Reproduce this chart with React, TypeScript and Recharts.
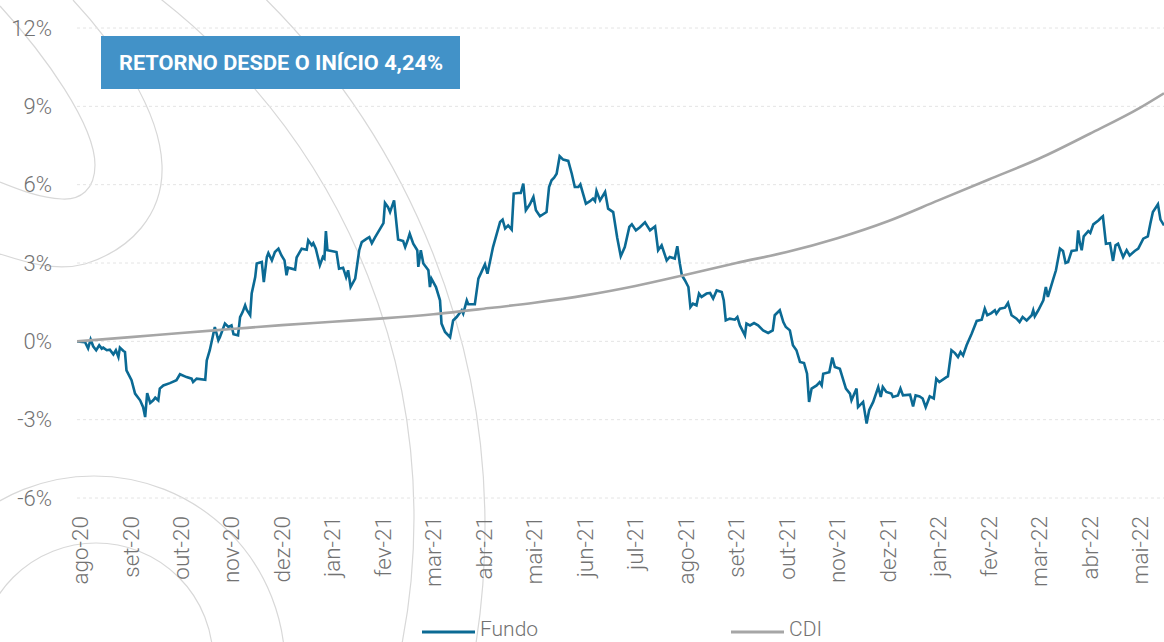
import React from 'react';
import { LineChart, Line, XAxis, YAxis, CartesianGrid } from 'recharts';

const MONTHS = ['ago-20','set-20','out-20','nov-20','dez-20','jan-21','fev-21','mar-21','abr-21','mai-21','jun-21','jul-21','ago-21','set-21','out-21','nov-21','dez-21','jan-22','fev-22','mar-22','abr-22','mai-22'];
const Y_TICKS = [-6, -3, 0, 3, 6, 9, 12];

// time in months since ago-20
const fundoT = [-0.06,0.10,0.16,0.21,0.26,0.32,0.38,0.43,0.46,0.53,0.59,0.66,0.71,0.76,0.79,0.86,0.89,0.92,1.02,1.09,1.19,1.25,1.29,1.33,1.39,1.45,1.49,1.55,1.58,1.65,1.78,1.91,1.98,2.11,2.21,2.24,2.31,2.48,2.51,2.57,2.67,2.74,2.77,2.87,2.94,3.00,3.04,3.13,3.17,3.22,3.27,3.30,3.37,3.40,3.47,3.50,3.60,3.64,3.70,3.73,3.80,3.86,3.93,3.99,4.05,4.09,4.12,4.26,4.29,4.39,4.49,4.52,4.59,4.62,4.67,4.75,4.81,4.84,4.87,4.90,4.98,5.08,5.13,5.21,5.27,5.31,5.36,5.45,5.53,5.58,5.68,5.73,5.78,5.84,6.01,6.04,6.10,6.14,6.22,6.30,6.40,6.44,6.50,6.53,6.60,6.68,6.70,6.75,6.80,6.90,6.93,6.96,7.05,7.13,7.16,7.23,7.33,7.39,7.46,7.56,7.59,7.66,7.69,7.82,7.89,7.95,8.02,8.07,8.18,8.32,8.37,8.42,8.48,8.55,8.59,8.68,8.73,8.78,8.83,8.91,8.98,9.03,9.11,9.24,9.29,9.34,9.39,9.44,9.50,9.57,9.67,9.74,9.80,9.87,9.91,10.02,10.10,10.16,10.20,10.23,10.30,10.40,10.46,10.56,10.64,10.71,10.79,10.88,10.93,11.01,11.09,11.19,11.29,11.39,11.45,11.52,11.62,11.68,11.78,11.83,11.88,11.92,11.98,12.05,12.09,12.14,12.21,12.26,12.31,12.41,12.48,12.54,12.61,12.71,12.75,12.79,12.87,12.97,13.02,13.07,13.17,13.20,13.27,13.35,13.43,13.53,13.63,13.72,13.76,13.86,13.93,13.98,14.06,14.12,14.19,14.26,14.34,14.40,14.44,14.49,14.59,14.65,14.69,14.72,14.84,14.90,14.95,15.05,15.17,15.25,15.28,15.38,15.41,15.51,15.58,15.63,15.71,15.81,15.86,15.90,15.97,16.07,16.10,16.20,16.25,16.30,16.44,16.50,16.55,16.63,16.69,16.75,16.83,16.91,16.96,17.02,17.16,17.19,17.26,17.33,17.39,17.44,17.49,17.56,17.66,17.76,17.86,17.92,17.97,18.05,18.12,18.15,18.22,18.32,18.38,18.45,18.55,18.61,18.67,18.75,18.85,18.88,18.91,18.98,19.08,19.13,19.17,19.27,19.33,19.41,19.47,19.52,19.57,19.64,19.74,19.77,19.80,19.84,19.88,19.97,20.01,20.07,20.17,20.23,20.26,20.32,20.40,20.46,20.51,20.56,20.63,20.66,20.73,20.79,20.89,20.96,21.06,21.15,21.20,21.25,21.35,21.40,21.47];
const fundoV = [0.00,-0.03,-0.27,0.07,-0.19,-0.34,-0.15,-0.28,-0.24,-0.34,-0.32,-0.50,-0.34,-0.60,-0.24,-0.37,-0.41,-1.11,-1.49,-2.00,-2.26,-2.52,-2.90,-1.98,-2.36,-2.26,-2.16,-2.26,-1.81,-1.69,-1.60,-1.49,-1.26,-1.37,-1.43,-1.56,-1.43,-1.47,-0.73,-0.34,0.55,0.04,0.16,0.68,0.55,0.61,0.27,0.23,0.93,1.12,1.38,1.21,1.00,1.83,2.46,2.98,3.04,2.27,3.23,3.38,3.10,3.42,3.55,3.29,3.10,2.53,2.82,2.75,3.21,3.55,3.51,3.87,3.68,3.76,3.55,2.91,3.23,3.17,4.22,3.49,3.46,3.42,2.78,2.82,2.46,2.72,2.08,2.40,3.49,3.80,3.93,3.99,3.76,3.97,4.53,5.30,5.14,4.95,5.40,3.90,3.84,3.61,3.93,4.12,3.74,3.49,2.85,3.49,2.98,2.72,2.08,2.40,2.08,1.57,0.68,0.36,0.16,0.80,0.93,1.19,1.06,1.57,1.42,1.42,2.40,2.65,2.95,2.59,3.61,4.57,4.66,4.32,4.44,4.28,5.66,5.68,5.68,6.04,5.02,5.25,5.53,5.02,4.79,4.95,5.91,6.17,6.27,6.42,7.09,6.96,6.91,6.42,5.91,5.91,6.01,5.27,5.37,5.47,5.37,5.76,5.40,5.72,5.08,4.95,3.97,3.26,3.61,4.38,4.48,4.25,4.37,4.56,4.25,4.40,3.49,3.68,3.10,3.23,3.17,3.64,2.98,2.53,2.34,2.08,1.31,1.44,1.38,1.83,1.70,1.83,1.85,1.64,1.95,1.89,1.57,0.80,0.87,0.83,0.93,0.61,0.23,0.68,0.61,0.70,0.61,0.42,0.32,0.42,1.00,1.19,0.74,0.55,0.42,-0.15,-0.34,-0.79,-0.83,-1.24,-2.32,-1.81,-1.69,-1.56,-1.69,-1.24,-1.18,-0.62,-0.98,-1.05,-1.81,-2.00,-2.26,-1.81,-2.52,-2.32,-3.15,-2.64,-2.32,-1.75,-2.13,-1.75,-1.94,-2.00,-2.13,-2.07,-1.81,-2.07,-2.04,-2.49,-2.07,-2.11,-2.19,-2.52,-2.11,-2.19,-1.43,-1.56,-1.37,-1.34,-0.34,-0.45,-0.60,-0.41,-0.54,-0.15,0.29,0.78,0.83,1.25,1.00,1.08,1.19,1.06,1.25,1.29,1.47,1.00,0.87,0.74,0.93,0.80,1.00,1.19,0.96,1.19,1.57,2.08,1.70,2.34,2.72,3.55,3.46,3.00,3.04,3.46,3.49,4.25,3.80,3.49,4.02,4.22,4.15,4.48,4.63,4.74,4.79,3.74,3.76,3.08,3.68,3.74,3.38,3.23,3.49,3.29,3.46,3.55,3.93,4.02,4.51,4.95,5.25,4.66,4.44];

const cdiT = [-0.06,1,2,3,4,5,6,7,8,9,10,11,12,13,14,15,16,17,18,19,20,21,21.47];
const cdiV = [0,0.16,0.32,0.47,0.62,0.75,0.88,1.04,1.25,1.48,1.76,2.12,2.55,3.0,3.42,3.95,4.6,5.4,6.2,7.0,7.95,8.95,9.5];

const fundoData = fundoT.map((t, i) => ({ t, v: fundoV[i] }));
const cdiData = cdiT.map((t, i) => ({ t, v: cdiV[i] }));

const FONT = "Roboto, 'Noto Sans', sans-serif";
const FUNDO_COLOR = '#0b6a94';
const CDI_COLOR = '#a6a6a6';
const LABEL_COLOR = '#727272';

const XTick = (props: any) => {
  const { x, y, payload } = props;
  return (
    <g transform={`translate(${x},${y})`}>
      <text transform="rotate(-90)" x={-18} y={0} textAnchor="end" dominantBaseline="central"
        fill={LABEL_COLOR} fontSize={22.5} fontWeight={300} fontFamily={FONT}>
        {MONTHS[payload.value]}
      </text>
    </g>
  );
};

const Decor = () => (
  <svg width={1164} height={642} style={{ position: 'absolute', left: 0, top: 0 }}>
    <g fill="none" stroke="#d8d8d8" strokeWidth={1.2}>
      <path d="M 0 6 C 45 55, 95 125, 95 165 C 95 190, 80 200, 62 199 C 40 198, 20 190, 0 182" />
      <path d="M 73 0 C 115 45, 160 110, 162 165 C 164 215, 130 250, 85 264 C 55 272, 25 262, 0 254" />
      <circle cx={-244} cy={518} r={658} />
      <circle cx={-260} cy={527} r={745} />
      <circle cx={94} cy={667} r={191} />
      <circle cx={96} cy={660} r={117} />
    </g>
  </svg>
);

export default function App() {
  return (
    <div style={{ position: 'absolute', left: 0, top: 0, width: 1164, height: 642, overflow: 'hidden', background: '#fff' }}>
      <Decor />
      <div style={{ position: 'absolute', left: 0, top: 0 }}>
        <LineChart width={1164} height={642} margin={{ top: 28, right: 0, left: 0, bottom: 44 }}>
          <CartesianGrid horizontal vertical={false} stroke="#e4e4e4" strokeDasharray="3 3" />
          <XAxis dataKey="t" type="number" domain={[-0.06, 21.47]} ticks={MONTHS.map((_, i) => i)}
            allowDataOverflow interval={0} axisLine={false} tickLine={false} tickSize={0} tickMargin={0}
            height={100} tick={<XTick />} />
          <YAxis type="number" domain={[-6, 12]} ticks={Y_TICKS} width={77} axisLine={false} tickLine={false}
            tickSize={0} tickMargin={25} tickFormatter={(v: number) => `${v}%`}
            tick={{ fill: LABEL_COLOR, fontSize: 22, fontWeight: 300, fontFamily: FONT }} />
          <Line data={fundoData} dataKey="v" type="linear" stroke={FUNDO_COLOR} strokeWidth={2.6} dot={false} isAnimationActive={false} />
          <Line data={cdiData} dataKey="v" type="monotone" stroke={CDI_COLOR} strokeWidth={2.6} dot={false} isAnimationActive={false} />
        </LineChart>
      </div>
      <div style={{ position: 'absolute', left: 101, top: 36 }}>
        <svg width={359} height={53}>
          <rect x={0} y={0} width={359} height={53} fill="#4292c8" />
          <text x={18} y={34} textLength={324} lengthAdjust="spacingAndGlyphs" fill="#fff"
            fontFamily={FONT} fontWeight={700} fontSize={21}>RETORNO DESDE O INÍCIO 4,24%</text>
        </svg>
      </div>
      <svg width={1164} height={642} style={{ position: 'absolute', left: 0, top: 0, pointerEvents: 'none' }}>
        <line x1={422} y1={632} x2={475} y2={632} stroke={FUNDO_COLOR} strokeWidth={3} />
        <text x={480} y={636} fill={LABEL_COLOR} fontSize={21} fontWeight={300} fontFamily={FONT}>Fundo</text>
        <line x1={731} y1={632} x2={784} y2={632} stroke={CDI_COLOR} strokeWidth={3} />
        <text x={789} y={636} fill={LABEL_COLOR} fontSize={21} fontWeight={300} fontFamily={FONT}>CDI</text>
      </svg>
    </div>
  );
}
